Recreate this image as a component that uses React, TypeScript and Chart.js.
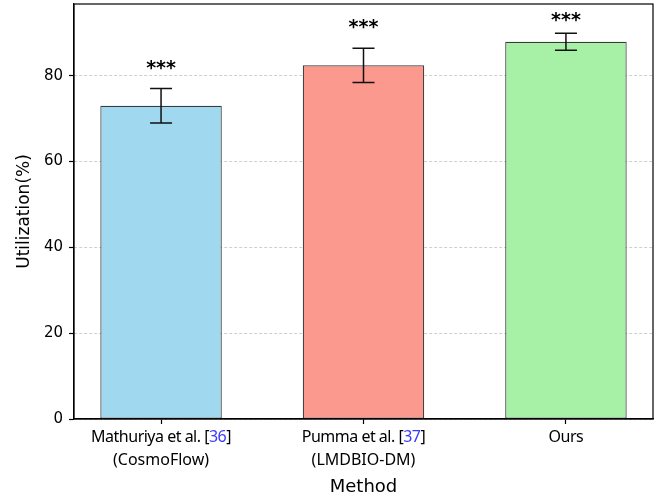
import React, { useEffect, useRef } from "react";
import { Chart, registerables } from "chart.js";

Chart.register(...registerables);

const methodNames = ["Mathuriya et al. ", "Pumma et al. ", "Ours"];
const refNumbers = ["36", "37", ""];
const subNames = ["(CosmoFlow)", "(LMDBIO-DM)", ""];
const utilization = [73.0, 82.4, 87.9];
const errors = [4.0, 4.0, 2.0];
const starLevels = [83.7, 93.1, 94.9];
const starTexts = ["***", "***", "***"];
const yTicks = [0, 20, 40, 60, 80];
const barColors = ["#9fd8ef", "#fb998e", "#a6f1a6"];

const FONT = "'DejaVu Sans', sans-serif";
const LABEL_FONT = "'Noto Sans', sans-serif";

export default function App() {
  const ref = useRef<HTMLCanvasElement | null>(null);
  useEffect(() => {
    document.body.style.margin = "0";
    const canvas = ref.current!;
    const overlay = {
      id: "overlay",
      afterDatasetsDraw(chart: any) {
        const ctx = chart.ctx;
        const xs = chart.scales.x;
        const ys = chart.scales.y;
        ctx.save();
        ctx.strokeStyle = "#111";
        ctx.lineWidth = 1.5;
        utilization.forEach((v, i) => {
          const px = xs.getPixelForValue(i);
          const top = ys.getPixelForValue(v + errors[i]);
          const bot = ys.getPixelForValue(v - errors[i]);
          ctx.beginPath();
          ctx.moveTo(px, top);
          ctx.lineTo(px, bot);
          ctx.moveTo(px - 11, top);
          ctx.lineTo(px + 11, top);
          ctx.moveTo(px - 11, bot);
          ctx.lineTo(px + 11, bot);
          ctx.stroke();
        });
        ctx.fillStyle = "#000";
        ctx.font = `bold 19px ${FONT}`;
        ctx.textAlign = "center";
        ctx.textBaseline = "alphabetic";
        starTexts.forEach((s, i) => {
          const px = xs.getPixelForValue(i);
          const py = ys.getPixelForValue(starLevels[i]);
          ctx.fillText(s, px, py + 14);
        });
        ctx.restore();
      },
      afterDraw(chart: any) {
        const ctx = chart.ctx;
        const a = chart.chartArea;
        const xs = chart.scales.x;
        ctx.save();
        ctx.strokeStyle = "#000";
        ctx.lineWidth = 1.2;
        ctx.strokeRect(a.left, a.top, a.right - a.left, a.bottom - a.top);
        ctx.textBaseline = "alphabetic";
        methodNames.forEach((name, i) => {
          const px = xs.getPixelForValue(i);
          ctx.font = `16px ${LABEL_FONT}`;
          (ctx as any).letterSpacing = "-0.5px";
          const yb = 442;
          if (refNumbers[i]) {
            const w1 = ctx.measureText(name).width;
            const wOpen = ctx.measureText("[").width;
            const wNum = ctx.measureText(refNumbers[i]).width;
            const wClose = ctx.measureText("]").width;
            let x = px - (w1 + wOpen + wNum + wClose) / 2;
            ctx.textAlign = "left";
            ctx.fillStyle = "#000";
            ctx.fillText(name, x, yb);
            x += w1;
            ctx.fillText("[", x, yb);
            x += wOpen;
            ctx.fillStyle = "#3a3aff";
            ctx.fillText(refNumbers[i], x, yb);
            x += wNum;
            ctx.fillStyle = "#000";
            ctx.fillText("]", x, yb);
          } else {
            ctx.textAlign = "center";
            ctx.fillStyle = "#000";
            ctx.fillText(name, px, yb);
          }
          (ctx as any).letterSpacing = "0px";
          if (subNames[i]) {
            ctx.font = `16px ${LABEL_FONT}`;
            ctx.textAlign = "center";
            ctx.fillStyle = "#000";
            ctx.fillText(subNames[i], px, 464.5);
          }
        });
        ctx.textAlign = "center";
        ctx.font = `18px ${FONT}`;
        ctx.fillStyle = "#000";
        ctx.fillText("Method", (a.left + a.right) / 2, 492);
        ctx.restore();
      },
    };

    const chart = new Chart(canvas, {
      type: "bar",
      data: {
        datasets: [
          {
            data: utilization.map((v, i) => ({ x: i, y: v })),
            backgroundColor: barColors,
            borderColor: "#3a3a3a",
            borderWidth: 1.2,
            borderSkipped: false,
            categoryPercentage: 1,
            barPercentage: 0.6,
          },
        ],
      },
      options: {
        animation: false,
        responsive: false,
        devicePixelRatio: 1,
        layout: { padding: { top: 4, right: 8, left: 0, bottom: 0 } },
        plugins: { legend: { display: false }, tooltip: { enabled: false } },
        scales: {
          x: {
            type: "linear",
            min: -0.43,
            max: 2.43,
            offset: false,
            afterBuildTicks: (s: any) => {
              s.ticks = [0, 1, 2].map((v) => ({ value: v }));
            },
            afterFit: (s: any) => {
              s.height = 79;
              s.paddingLeft = 0;
              s.paddingRight = 0;
            },
            ticks: { display: false },
            grid: {
              display: true,
              offset: false,
              drawOnChartArea: false,
              drawTicks: true,
              tickLength: 5,
              tickColor: "#000",
              tickWidth: 1.2,
            },
            border: { display: true, color: "#000", width: 1.2 },
          },
          y: {
            min: 0,
            max: 96.7,
            afterBuildTicks: (s: any) => {
              s.ticks = yTicks.map((v) => ({ value: v }));
            },
            afterFit: (s: any) => {
              s.width = 74;
              s.paddingTop = 0;
              s.paddingBottom = 0;
            },
            ticks: {
              color: "#000",
              font: { family: FONT, size: 15 },
              padding: 6,
            },
            grid: {
              color: "rgba(180,180,180,0.8)",
              lineWidth: 0.8,
              tickLength: 5,
              tickColor: "#000",
              tickWidth: 1.2,
            },
            border: { display: true, color: "#000", width: 1.2, dash: [3, 2] },
            title: {
              display: true,
              text: "Utilization(%)",
              color: "#000",
              font: { family: FONT, size: 17 },
              padding: { top: 14, bottom: 0 },
            },
          },
        },
      },
      plugins: [overlay],
    });
    return () => chart.destroy();
  }, []);
  return (
    <div style={{ width: 661, height: 498 }}>
      <canvas ref={ref} width={661} height={498} style={{ display: "block" }} />
    </div>
  );
}
